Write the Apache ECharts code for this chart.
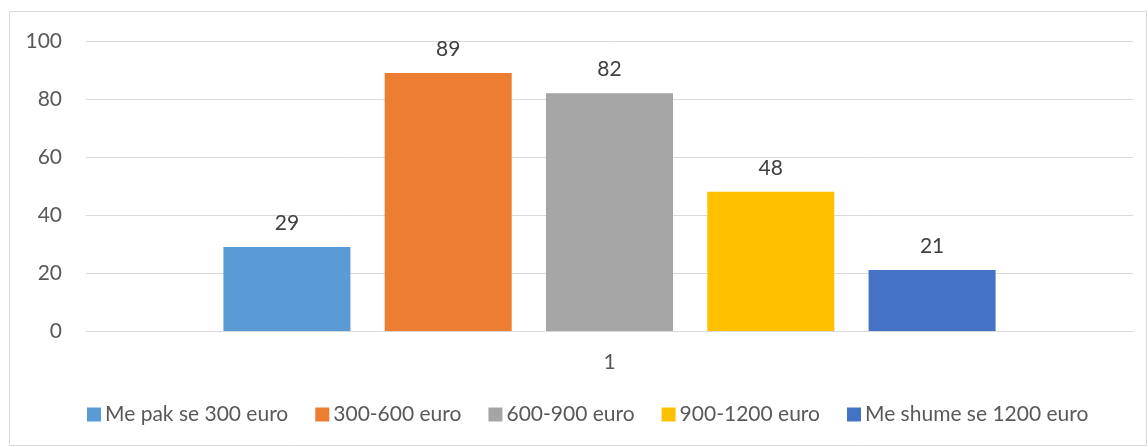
<!DOCTYPE html>
<html>
<head>
<meta charset="utf-8">
<script src="https://cdn.jsdelivr.net/npm/echarts@6/dist/echarts.min.js"></script>
<style>
  html, body { margin: 0; padding: 0; background: #fff; }
  #chart { width: 1148px; height: 447px; }
</style>
</head>
<body>
<div id="chart"></div>
<script>
var categories = ['1'];
var seriesNames = ['Me pak se 300 euro', '300-600 euro', '600-900 euro', '900-1200 euro', 'Me shume se 1200 euro'];
var seriesValues = [29, 89, 82, 48, 21];
var seriesColors = ['#5B9BD5', '#ED7D31', '#A5A5A5', '#FFC000', '#4472C4'];
var yTicks = [0, 20, 40, 60, 80, 100];

var textColor = '#595959';
var fontName = 'Lato';
var fontSize = 21;

var series = [];
for (var i = 0; i < seriesNames.length; i++) {
    series.push({
        name: seriesNames[i],
        type: 'bar',
        barWidth: 127,
        barGap: '27%',
        itemStyle: { color: seriesColors[i] },
        label: {
            show: true,
            position: 'top',
            distance: 13,
            color: '#404040',
            fontSize: fontSize,
            fontFamily: fontName
        },
        data: [seriesValues[i]]
    });
}

var chart = echarts.init(document.getElementById('chart'));
chart.setOption({
    animation: false,
    textStyle: { fontFamily: fontName },
    graphic: [{
        type: 'rect',
        shape: { x: 9.5, y: 11.5, width: 1137, height: 434 },
        style: { fill: 'none', stroke: '#D9D9D9', lineWidth: 1 },
        silent: true
    }],
    grid: { left: 86, right: 15, top: 41, bottom: 116 },
    legend: {
        data: seriesNames,
        bottom: 17,
        left: 82,
        icon: 'rect',
        itemWidth: 14,
        itemHeight: 14,
        itemGap: 27,
        textStyle: { color: textColor, fontSize: fontSize, fontFamily: fontName, padding: [0, 0, 0, -1] }
    },
    xAxis: {
        type: 'category',
        data: categories,
        axisLine: { show: true, lineStyle: { color: '#D9D9D9', width: 1 } },
        axisTick: { show: false },
        axisLabel: { color: textColor, fontSize: fontSize, fontFamily: fontName, margin: 21 }
    },
    yAxis: {
        type: 'value',
        min: yTicks[0],
        max: yTicks[yTicks.length - 1],
        interval: 20,
        axisLine: { show: false },
        axisTick: { show: false },
        splitLine: { lineStyle: { color: '#D9D9D9', width: 1 } },
        axisLabel: { color: textColor, fontSize: fontSize, fontFamily: fontName, margin: 24 }
    },
    series: series
});
</script>
</body>
</html>
